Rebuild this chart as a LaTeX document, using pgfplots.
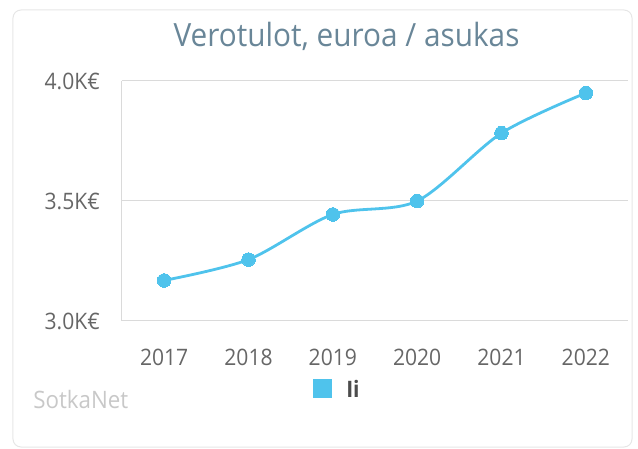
\documentclass[border=0pt]{standalone}
\usepackage{pgfplots}
\pgfplotsset{compat=1.18}
\usepackage{fontspec}
\setmainfont{Open Sans}[FakeStretch=0.93]

\definecolor{linec}{HTML}{4FC3EC}
\definecolor{titlec}{HTML}{698698}
\definecolor{tickc}{HTML}{666666}
\definecolor{gridc}{HTML}{DADADA}
\definecolor{brandc}{HTML}{C8C8C8}
\definecolor{cardc}{HTML}{E6E6E6}

\begin{document}
\begin{tikzpicture}
% pixel frame: 1px = 0.75pt, y downwards, origin at top-left of the image
\begin{scope}[shift={(-91.5pt,240.75pt)},x=0.75pt,y=-0.75pt]
  \useasboundingbox (0,0) rectangle (638,449);
  \draw[cardc,line width=0.75pt,rounded corners=6pt] (13,10) rectangle (632,447);
\end{scope}

\begin{axis}[
  scale only axis,
  width=379.5pt,height=180pt,
  xmin=-0.5,xmax=5.5,
  ymin=3,ymax=4,
  xtick={0,...,5},
  xticklabels={2017,2018,2019,2020,2021,2022},
  ytick={3,3.5,4},
  yticklabels={3.0K€,3.5K€,4.0K€},
  axis lines*=left,
  axis line style={draw=gridc,line width=0.75pt},
  ymajorgrids,
  grid style={draw=gridc,line width=0.75pt},
  major tick length=0pt,
  tick style={draw=none},
  ticklabel style={font=\fontsize{17}{19}\selectfont,text=tickc},
  xticklabel style={anchor=base,yshift=-33pt},
  yticklabel style={anchor=east,inner sep=0pt,xshift=-16.5pt},
  clip=false,
]
\addplot[linec,line width=2.1pt,smooth,tension=0.5,
  mark=*,mark size=5.1pt,mark options={fill=linec,draw=linec,line width=0pt}]
  coordinates {(0,3.169) (1,3.256) (2,3.444) (3,3.500) (4,3.783) (5,3.950)};
\end{axis}

\begin{scope}[shift={(-91.5pt,240.75pt)},x=0.75pt,y=-0.75pt]
  \node[font=\fontsize{24}{28}\selectfont,text=titlec,anchor=base,inner sep=0pt] at (346.5,47) {Verotulot, euroa / asukas};
  \fill[linec] (313,379) rectangle (332,398);
  \node[font=\fontsize{17}{19}\selectfont\bfseries,text=black!70,anchor=base west,inner sep=0pt] at (346,397) {Ii};
  \node[font=\fontsize{18}{20}\selectfont,text=brandc,anchor=base west,inner sep=0pt] at (33,408) {SotkaNet};
\end{scope}
\end{tikzpicture}
\end{document}
